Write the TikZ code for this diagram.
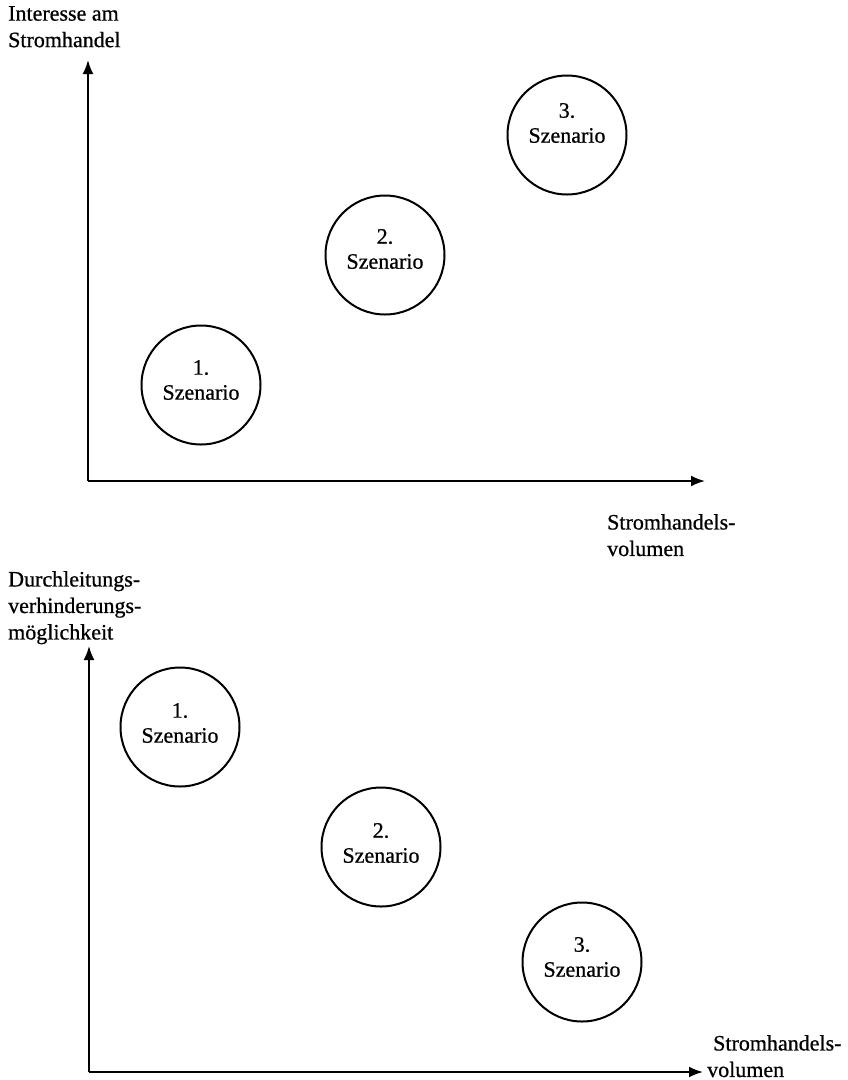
\documentclass[tikz,border=0pt]{standalone}
\usepackage{fontspec}
\setmainfont{Liberation Serif}[BoldFont={Liberation Serif},BoldFeatures={FakeBold=0.7}]
\usetikzlibrary{arrows.meta}
\begin{document}
\begin{tikzpicture}[x=1pt,y=-1pt,
  axis/.style={line width=2pt,-{Latex[length=14pt,width=11pt]}},
  scen/.style={circle,draw,line width=2pt,minimum size=119pt,inner sep=0pt},
  scentext/.style={align=center,inner sep=0pt,font=\fontsize{22}{25}\selectfont\bfseries},
  lab/.style={align=left,inner sep=0pt,anchor=north west,font=\fontsize{22}{26.5}\selectfont\bfseries}]
\useasboundingbox (0,0) rectangle (847,1080);
% ---------- top chart ----------
\coordinate (o1) at (88,481);
\coordinate (y1) at (88,60);
\coordinate (x1) at (705,481);
\draw[axis] (o1) -- (y1);
\draw[axis] (o1) -- (x1);
\node[lab] (ly1) at (8,6) {Interesse am\\Stromhandel};
\node[lab] (lx1) at (607,514) {Stromhandels-\\volumen};
\node[scen] (s1) at (201,385) {};
\node[scentext] (t1) at ([yshift=5pt]s1.center) {1.\\Szenario};
\node[scen] (s2) at (385,255) {};
\node[scentext] (t2) at ([yshift=6pt]s2.center) {2.\\Szenario};
\node[scen] (s3) at (567,135) {};
\node[scentext] (t3) at ([yshift=12pt]s3.center) {3.\\Szenario};
% ---------- bottom chart ----------
\coordinate (o2) at (89,1072);
\coordinate (y2) at (89,646);
\coordinate (x2) at (703,1072);
\draw[axis] (o2) -- (y2);
\draw[axis] (o2) -- (x2);
\node[lab] (ly2) at (8,571) {Durchleitungs-\\verhinderungs-\\möglichkeit};
\node[lab] (lx2) at (713,1035) {Stromhandels-\\\hspace*{-6pt}volumen};
\node[scen] (b1) at (180,727) {};
\node[scentext] (u1) at ([yshift=4pt]b1.center) {1.\\Szenario};
\node[scen] (b2) at (381,847) {};
\node[scentext] (u2) at ([yshift=4pt]b2.center) {2.\\Szenario};
\node[scen] (b3) at (582,962) {};
\node[scentext] (u3) at ([yshift=5pt]b3.center) {3.\\Szenario};
\end{tikzpicture}
\end{document}
